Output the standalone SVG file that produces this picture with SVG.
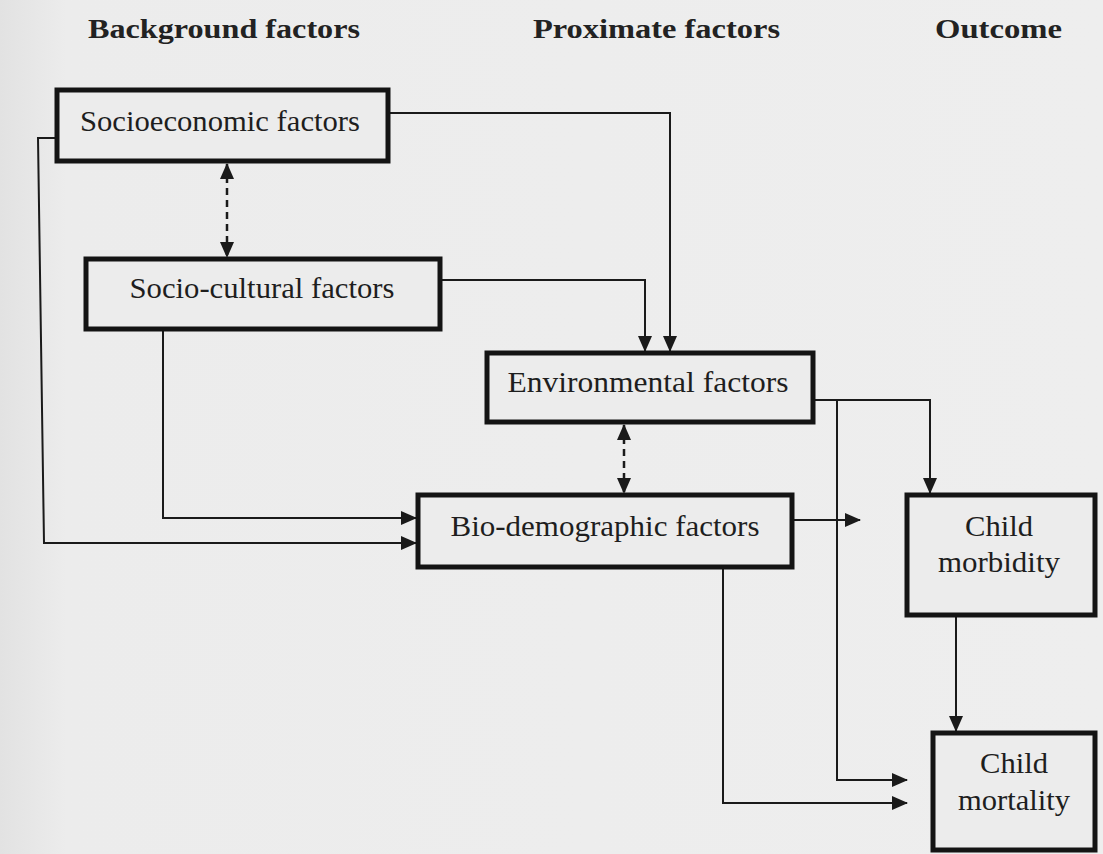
<svg xmlns="http://www.w3.org/2000/svg" width="1103" height="854" viewBox="0 0 1103 854">
<defs>
<marker id="ah" markerUnits="userSpaceOnUse" markerWidth="16" markerHeight="14" refX="15" refY="7" orient="auto">
<path d="M0,0 L16,7 L0,14 Z" fill="#1a1a1a"/>
</marker>
<marker id="ahs" markerUnits="userSpaceOnUse" markerWidth="16" markerHeight="14" refX="15" refY="7" orient="auto-start-reverse">
<path d="M0,0 L16,7 L0,14 Z" fill="#1a1a1a"/>
</marker>
<linearGradient id="bg" x1="0" y1="0" x2="1" y2="0">
<stop offset="0" stop-color="#e2e2e2"/>
<stop offset="0.06" stop-color="#ececec"/>
<stop offset="1" stop-color="#eeeeee"/>
</linearGradient>
</defs>
<style>
.box{fill:#ececec;stroke:#141414;stroke-width:5}
.t{font-family:"Liberation Serif","Times New Roman",serif;font-size:30px;fill:#1e1e1e;text-anchor:middle}
.h{font-family:"Liberation Serif","Times New Roman",serif;font-size:28px;font-weight:bold;fill:#222}
.c{fill:none;stroke:#1a1a1a;stroke-width:2;marker-end:url(#ah)}
.d{fill:none;stroke:#1a1a1a;stroke-width:2.5;stroke-dasharray:7,5;marker-start:url(#ahs);marker-end:url(#ahs)}
</style>
<rect x="0" y="0" width="1103" height="854" fill="url(#bg)"/>
<g id="headers">
<text class="h" x="88" y="38" textLength="272" lengthAdjust="spacingAndGlyphs">Background factors</text>
<text class="h" x="533" y="38" textLength="247" lengthAdjust="spacingAndGlyphs">Proximate factors</text>
<text class="h" x="935" y="38" textLength="127" lengthAdjust="spacingAndGlyphs">Outcome</text>
</g>
<g id="connectors">
<path class="c" d="M388,113 H670 V351"/>
<path class="c" d="M440,280 H645 V351"/>
<path class="c" d="M57,138 H38 L44,543 H416"/>
<path class="c" d="M163,330 V518 H416"/>
<path class="c" d="M813,400 H930 V493"/>
<path class="c" d="M837,400 V780 H907"/>
<path class="c" d="M792,520 H860"/>
<path class="c" d="M723,567 V803 H907"/>
<path class="c" d="M956,615 V731"/>
<path class="d" d="M227,164 V257"/>
<path class="d" d="M624,425 V493"/>
</g>
<g id="socioeconomic">
<rect class="box" x="57" y="90" width="331" height="71"/>
<text class="t" x="220" y="131" textLength="280" lengthAdjust="spacingAndGlyphs">Socioeconomic factors</text>
</g>
<g id="sociocultural">
<rect class="box" x="86" y="259" width="354" height="70"/>
<text class="t" x="262" y="298" textLength="265" lengthAdjust="spacingAndGlyphs">Socio-cultural factors</text>
</g>
<g id="environmental">
<rect class="box" x="487" y="353" width="326" height="69"/>
<text class="t" x="648" y="392" textLength="281" lengthAdjust="spacingAndGlyphs">Environmental factors</text>
</g>
<g id="biodemographic">
<rect class="box" x="418" y="495" width="374" height="72"/>
<text class="t" x="605" y="536" textLength="309" lengthAdjust="spacingAndGlyphs">Bio-demographic factors</text>
</g>
<g id="morbidity">
<rect class="box" x="907" y="495" width="188" height="120"/>
<text class="t" x="999" y="536" textLength="68" lengthAdjust="spacingAndGlyphs">Child</text>
<text class="t" x="999" y="572" textLength="122" lengthAdjust="spacingAndGlyphs">morbidity</text>
</g>
<g id="mortality">
<rect class="box" x="933" y="733" width="162" height="117"/>
<text class="t" x="1014" y="773" textLength="68" lengthAdjust="spacingAndGlyphs">Child</text>
<text class="t" x="1014" y="810" textLength="112" lengthAdjust="spacingAndGlyphs">mortality</text>
</g>
</svg>
